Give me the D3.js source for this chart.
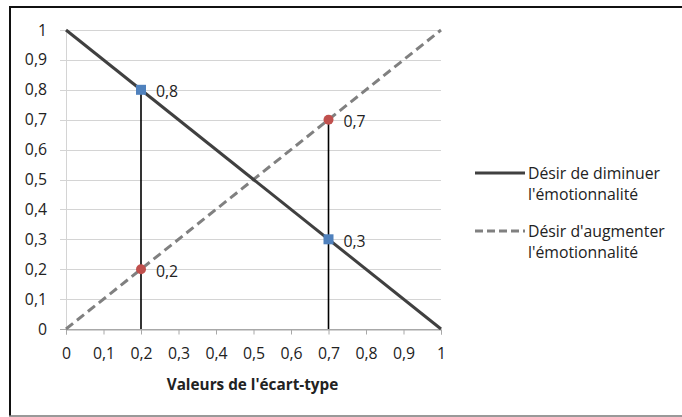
<!DOCTYPE html>
<html>
<head>
<meta charset="utf-8">
<script src="https://cdn.jsdelivr.net/npm/d3@7"></script>
<style>
  html, body { margin: 0; padding: 0; background: #fff; }
  svg { display: block; }
  text { font-family: "Open Sans", sans-serif; fill: #222; }
</style>
</head>
<body>
<svg id="chart" width="682" height="417"></svg>
<script>
// Series: two straight lines over the standard-deviation range
const xValues = [0, 1];
const decreaseValues = [1, 0];
const increaseValues = [0, 1];

// Highlighted points
const decreasePoints = [[0.2, 0.8], [0.7, 0.3]];
const increasePoints = [[0.2, 0.2], [0.7, 0.7]];
const dropX = [0.2, 0.7];
const dropTop = [0.8, 0.7];

const tickValues = [0, 0.1, 0.2, 0.3, 0.4, 0.5, 0.6, 0.7, 0.8, 0.9, 1];
const seriesNames = [
  ["Désir de diminuer", "l'émotionnalité"],
  ["Désir d'augmenter", "l'émotionnalité"]
];
const xTitle = "Valeurs de l'écart-type";

const FONT = 15.8;
const fmt = v => String(+v.toFixed(1)).replace(".", ",");

const svg = d3.select("#chart");

// Outer frame
svg.append("line").attr("x1", 9).attr("x2", 682).attr("y1", 7).attr("y2", 7)
  .attr("stroke", "#111").attr("stroke-width", 2);
svg.append("line").attr("x1", 10).attr("x2", 10).attr("y1", 6).attr("y2", 416)
  .attr("stroke", "#111").attr("stroke-width", 2);
svg.append("line").attr("x1", 9).attr("x2", 682).attr("y1", 416).attr("y2", 416)
  .attr("stroke", "#777").attr("stroke-width", 1.5);

const x = d3.scaleLinear().domain([0, 1]).range([66, 441]);
const y = d3.scaleLinear().domain([0, 1]).range([329, 30]);

// Horizontal gridlines with y-axis tick labels
const gy = svg.append("g");
gy.selectAll("line").data(tickValues).join("line")
  .attr("x1", x(0) - 6).attr("x2", x(1))
  .attr("y1", d => Math.round(y(d)) + 0.5).attr("y2", d => Math.round(y(d)) + 0.5)
  .attr("stroke", d => d === 0 ? "#a8a8a8" : "#d4d4d4").attr("stroke-width", 1);
gy.selectAll("text").data(tickValues).join("text")
  .attr("x", 47).attr("y", d => y(d)).attr("dy", "0.35em")
  .attr("text-anchor", "end").attr("font-size", FONT).text(fmt);

// Left axis line
svg.append("line").attr("x1", x(0) + 0.5).attr("x2", x(0) + 0.5)
  .attr("y1", y(1)).attr("y2", y(0)).attr("stroke", "#d4d4d4");

// Bottom axis ticks and labels
const xAxis = d3.axisBottom(x).tickValues(tickValues).tickSize(5).tickFormat(fmt);
const gx = svg.append("g").attr("transform", `translate(0,${Math.round(y(0)) + 0.5})`).call(xAxis);
gx.select(".domain").attr("stroke", "#a8a8a8");
gx.selectAll(".tick line").attr("stroke", "#a8a8a8");
gx.selectAll(".tick text").attr("font-size", FONT).attr("y", 0).attr("dy", 29)
  .attr("font-family", "'Open Sans', sans-serif").attr("fill", "#222");

// Axis title
svg.append("text").attr("x", (x(0) + x(1)) / 2 - 1).attr("y", 390)
  .attr("text-anchor", "middle").attr("font-size", 15.3).attr("font-weight", "bold")
  .text(xTitle);

// Drop lines from highlighted points
svg.append("g").selectAll("line").data(dropX).join("line")
  .attr("x1", d => x(d)).attr("x2", d => x(d))
  .attr("y1", (d, i) => y(dropTop[i])).attr("y2", y(0))
  .attr("stroke", "#000").attr("stroke-width", 1.6);

const line = d3.line().x(d => x(d[0])).y(d => y(d[1]));

// Series lines
svg.append("path").datum(xValues.map((v, i) => [v, increaseValues[i]]))
  .attr("d", line).attr("fill", "none").attr("stroke", "#808080")
  .attr("stroke-width", 3).attr("stroke-dasharray", "9,5");
svg.append("path").datum(xValues.map((v, i) => [v, decreaseValues[i]]))
  .attr("d", line).attr("fill", "none").attr("stroke", "#404040")
  .attr("stroke-width", 3);

// Markers
svg.append("g").selectAll("rect").data(decreasePoints).join("rect")
  .attr("x", d => x(d[0]) - 5).attr("y", d => y(d[1]) - 5)
  .attr("width", 10).attr("height", 10).attr("fill", "#4f81bd");
svg.append("g").selectAll("circle").data(increasePoints).join("circle")
  .attr("cx", d => x(d[0])).attr("cy", d => y(d[1])).attr("r", 5)
  .attr("fill", "#c0504d");

// Value labels
svg.append("g").selectAll("text").data(decreasePoints.concat(increasePoints)).join("text")
  .attr("x", d => x(d[0]) + 15).attr("y", d => y(d[1]) + 2).attr("dy", "0.35em")
  .attr("font-size", FONT).text(d => fmt(d[1]));

// Legend
const legend = svg.append("g");
const legendY = [173, 231];
legend.selectAll("line").data(seriesNames).join("line")
  .attr("x1", 475).attr("x2", 525)
  .attr("y1", (d, i) => legendY[i]).attr("y2", (d, i) => legendY[i])
  .attr("stroke", (d, i) => i === 0 ? "#404040" : "#808080")
  .attr("stroke-width", 3)
  .attr("stroke-dasharray", (d, i) => i === 0 ? null : "8,4");
seriesNames.forEach((lines, i) => {
  lines.forEach((t, j) => {
    legend.append("text").attr("x", 528).attr("y", legendY[i] + j * 21)
      .attr("dy", "0.35em").attr("font-size", FONT).text(t);
  });
});
</script>
</body>
</html>
